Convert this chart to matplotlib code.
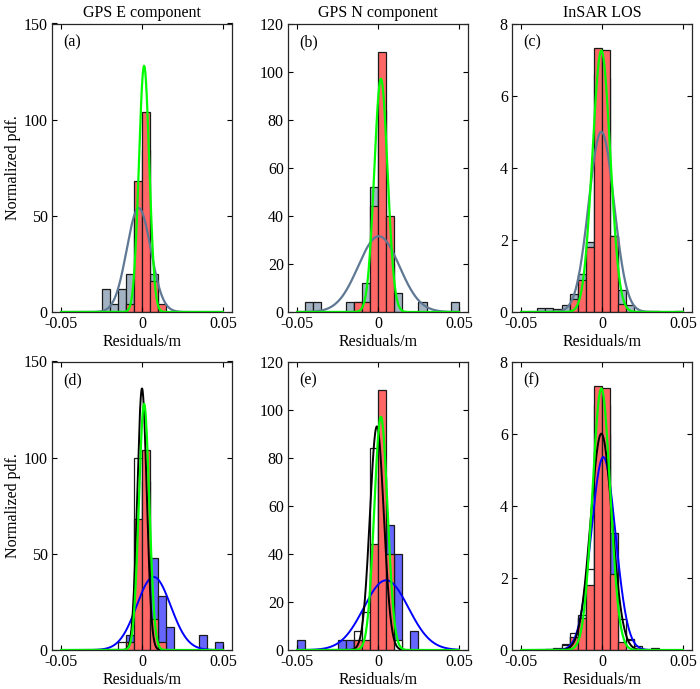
import numpy as np
import matplotlib
matplotlib.use('Agg')
import matplotlib.pyplot as plt

plt.rcParams['font.family'] = ['Liberation Serif', 'DejaVu Serif']
plt.rcParams['font.size'] = 11.5

BW = 0.005  # histogram bin width (m)

# ---- histogram data (bin centres / normalized pdf heights) ----
# GPS E, shared red histogram for (a) and (d)
red_e_x = [-0.0075, -0.0025, 0.0025, 0.0075, 0.0125]
red_e_y = [4, 68, 104, 16, 4]
gray_e_x = [-0.0225, -0.0175, -0.0125, -0.0075, -0.0025, 0.0025, 0.0075]
gray_e_y = [12, 4, 12, 20, 48, 84, 20]
blue_e_x = [-0.0075, -0.0025, 0.0025, 0.0075, 0.0125, 0.0175, 0.0375, 0.0475]
blue_e_y = [8, 36, 56, 48, 28, 12, 8, 4]
white_e_x = [-0.0125, -0.0025, 0.0025, 0.0075]
white_e_y = [4, 100, 88, 8]

# GPS N
red_n_x = [-0.0125, -0.0075, -0.0025, 0.0025, 0.0075]
red_n_y = [4, 4, 44, 108, 40]
gray_n_x = [-0.0425, -0.0375, -0.0175, -0.0125, -0.0075, -0.0025, 0.0025, 0.0075, 0.0125, 0.0275, 0.0475]
gray_n_y = [4, 4, 4, 4, 12, 52, 84, 20, 8, 4, 4]
blue_n_x = [-0.0475, -0.0225, -0.0175, -0.0125, -0.0075, -0.0025, 0.0025, 0.0075, 0.0125, 0.0225]
blue_n_y = [4, 4, 4, 4, 12, 32, 40, 52, 40, 8]
white_n_x = [-0.0125, -0.0075, -0.0025, 0.0025, 0.0075, 0.0125]
white_n_y = [8, 16, 84, 72, 16, 4]

# InSAR LOS
red_l_x = [-0.0175, -0.0125, -0.0075, -0.0025, 0.0025, 0.0075, 0.0125]
red_l_y = [0.37, 0.88, 1.8, 7.33, 7.26, 2.1, 0.21]
gray_l_x = [-0.0375, -0.0325, -0.0275, -0.0225, -0.0175, -0.0125, -0.0075, -0.0025,
            0.0025, 0.0075, 0.0125, 0.0175, 0.0225, 0.0275, 0.0325, 0.0475]
gray_l_y = [0.1, 0.1, 0.07, 0.2, 0.5, 1.05, 1.93, 6.6, 6.5, 2.1, 0.6, 0.2, 0.03, 0.02, 0.03, 0.03]
blue_l_x = [-0.0225, -0.0175, -0.0125, -0.0075, -0.0025, 0.0025, 0.0075, 0.0125, 0.0175, 0.0325]
blue_l_y = [0.16, 0.4, 0.9, 2.0, 5.5, 6.0, 3.25, 0.5, 0.3, 0.05]
white_l_x = [-0.0325, -0.0275, -0.0225, -0.0175, -0.0125, -0.0075, -0.0025, 0.0025,
             0.0075, 0.0125, 0.0175, 0.0225]
white_l_y = [0.03, 0.05, 0.15, 0.46, 0.97, 2.24, 6.8, 6.8, 1.5, 0.85, 0.28, 0.12]

# ---- fitted normal curves: (mean, sigma, peak) ----
green_fit = {'E': (0.0013, 0.0032, 128), 'N': (0.0018, 0.0041, 97), 'L': (-0.0004, 0.0055, 7.25)}
gray_fit = {'E': (-0.002, 0.0074, 54), 'N': (0.0005, 0.0127, 31.5), 'L': (-0.0004, 0.0078, 5.0)}
blue_fit = {'E': (0.0072, 0.0105, 38), 'N': (0.005, 0.0138, 29), 'L': (0.0008, 0.0075, 5.35)}
black_fit = {'E': (0.0, 0.0029, 136), 'N': (-0.0007, 0.0043, 93), 'L': (-0.0004, 0.0066, 6.0)}

titles = ['GPS E component', 'GPS N component', 'InSAR LOS']
ymax = [150, 120, 8]
ystep = [50, 20, 2]
letters = ['(a)', '(b)', '(c)', '(d)', '(e)', '(f)']

RED = '#ff6666'
GRAY = '#a3b2c2'
GRAYLINE = '#5f7894'
BLUE = '#6666ff'
EDGE = '#1a1a1a'

xx = np.linspace(-0.05, 0.05, 600)


def gauss(fit):
    mu, sig, pk = fit
    return pk * np.exp(-(xx - mu) ** 2 / (2 * sig ** 2))


def bars(ax, x, y, color):
    ax.bar(x, y, width=BW, color=color, edgecolor=EDGE, linewidth=0.9)


fig = plt.figure(figsize=(7.0, 6.89), dpi=100)
lefts = [52 / 700, 288 / 700, 512 / 700]
bottoms = [(689 - 312) / 689, (689 - 650) / 689]
w, h = 180 / 700, 288.5 / 689

data = {
    'E': (red_e_x, red_e_y, gray_e_x, gray_e_y, blue_e_x, blue_e_y, white_e_x, white_e_y),
    'N': (red_n_x, red_n_y, gray_n_x, gray_n_y, blue_n_x, blue_n_y, white_n_x, white_n_y),
    'L': (red_l_x, red_l_y, gray_l_x, gray_l_y, blue_l_x, blue_l_y, white_l_x, white_l_y),
}

for row in range(2):
    for col, key in enumerate(['E', 'N', 'L']):
        ax = fig.add_axes([lefts[col], bottoms[row], w, h])
        rx, ry, gx, gy, bx, by, wx, wy = data[key]
        if row == 0:
            bars(ax, gx, gy, GRAY)
            bars(ax, rx, ry, RED)
            ax.plot(xx, gauss(gray_fit[key]), color=GRAYLINE, lw=1.6)
            ax.plot(xx, gauss(green_fit[key]), color='#00ff00', lw=1.6)
            ax.set_title(titles[col], fontsize=11.5, pad=5)
        else:
            bars(ax, bx, by, BLUE)
            bars(ax, wx, wy, 'white')
            bars(ax, rx, ry, RED)
            ax.plot(xx, gauss(blue_fit[key]), color='#0000ff', lw=1.4)
            ax.plot(xx, gauss(black_fit[key]), color='black', lw=1.4)
            ax.plot(xx, gauss(green_fit[key]), color='#00ff00', lw=1.6)

        ax.set_xlim(-0.0556, 0.0556)
        ax.set_ylim(0, ymax[col])
        ax.set_xticks([-0.05, 0, 0.05])
        ax.set_xticklabels(['-0.05', '0', '0.05'])
        yt = np.arange(0, ymax[col] + 0.001, ystep[col])
        ax.set_yticks(yt)
        ax.set_yticklabels([f'{v:g}' for v in yt])
        ax.tick_params(direction='in', top=True, right=True, length=3.5,
                       width=0.8, labelsize=11.5, pad=3)
        for s in ax.spines.values():
            s.set_linewidth(0.9)
            s.set_color('#262626')
        ax.set_xlabel('Residuals/m', fontsize=11.5, labelpad=1)
        if col == 0:
            ax.set_ylabel('Normalized pdf.', fontsize=11.5, labelpad=2)
        ax.text(0.065, 0.935, letters[row * 3 + col], transform=ax.transAxes,
                fontsize=11.5, va='center', ha='left')

fig.savefig('out.png', dpi=100)
